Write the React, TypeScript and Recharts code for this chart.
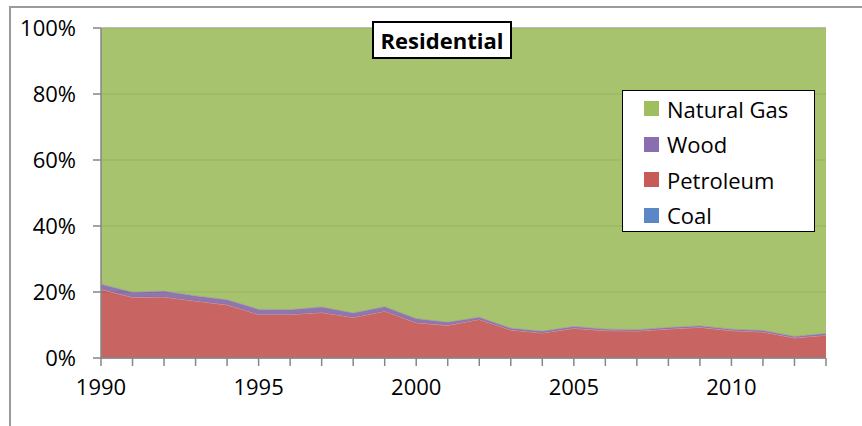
import React from 'react';
import {
  AreaChart,
  Area,
  XAxis,
  YAxis,
  CartesianGrid,
} from 'recharts';

// Residential energy consumption share by fuel, in percent
const years = [
  1990, 1991, 1992, 1993, 1994, 1995, 1996, 1997, 1998, 1999, 2000, 2001,
  2002, 2003, 2004, 2005, 2006, 2007, 2008, 2009, 2010, 2011, 2012, 2013,
];
const coal = [
  0.1, 0.1, 0.1, 0.1, 0.1, 0.1, 0.1, 0.1, 0.1, 0.1, 0.1, 0.1,
  0.1, 0.1, 0.1, 0.1, 0.1, 0.1, 0.1, 0.1, 0.1, 0.1, 0.1, 0.1,
];
const petroleum = [
  20.7, 18.3, 18.4, 17.2, 16.0, 13.1, 13.1, 13.7, 12.2, 14.1, 10.6, 9.8,
  11.6, 8.4, 7.5, 8.9, 8.2, 8.1, 8.7, 9.2, 8.2, 7.8, 6.0, 6.8,
];
const wood = [
  1.6, 1.6, 1.8, 1.6, 1.6, 1.6, 1.5, 1.7, 1.4, 1.4, 1.3, 1.0,
  0.7, 0.6, 0.6, 0.6, 0.5, 0.4, 0.5, 0.5, 0.5, 0.5, 0.5, 0.6,
];
const naturalGas = [
  77.6, 80.0, 79.7, 81.1, 82.3, 85.2, 85.3, 84.5, 86.3, 84.4, 88.0, 89.1,
  87.6, 90.9, 91.8, 90.4, 91.2, 91.4, 90.7, 90.2, 91.2, 91.6, 93.4, 92.5,
];

const percentTicks = [0, 20, 40, 60, 80, 100];
const labeledYears = [1990, 1995, 2000, 2005, 2010];
const chartTitle = 'Residential';

const data = years.map((year, i) => ({
  year,
  Coal: coal[i],
  Petroleum: petroleum[i],
  Wood: wood[i],
  'Natural Gas': naturalGas[i],
}));

const FONT = '"Open Sans", "Noto Sans", sans-serif';
const AXIS_GRAY = '#868686';

const legendItems = [
  { name: 'Natural Gas', color: '#9fbf5f' },
  { name: 'Wood', color: '#8a6fb0' },
  { name: 'Petroleum', color: '#c75b57' },
  { name: 'Coal', color: '#5b87c6' },
];

function LegendBox() {
  return (
    <div
      style={{
        position: 'absolute',
        left: 622,
        top: 90,
        boxSizing: 'border-box',
        width: 193,
        height: 142,
        background: '#fff',
        border: '1.5px solid #000',
        fontFamily: FONT,
      }}
    >
      {legendItems.map((item) => (
        <div
          key={item.name}
          style={{
            display: 'flex',
            alignItems: 'center',
            height: 35.5,
            paddingLeft: 21,
          }}
        >
          <span
            style={{
              display: 'inline-block',
              width: 15,
              height: 15,
              background: item.color,
              marginRight: 8,
              flex: 'none',
            }}
          />
          <span style={{ fontSize: 22, color: '#000', lineHeight: '22px' }}>
            {item.name}
          </span>
        </div>
      ))}
    </div>
  );
}

export default function App() {
  return (
    <div
      style={{
        position: 'absolute',
        left: 0,
        top: 0,
        width: 862,
        height: 426,
        background: '#fff',
        overflow: 'hidden',
        fontFamily: FONT,
      }}
    >
      {/* outer frame */}
      <div
        style={{
          position: 'absolute',
          left: 9,
          top: 6,
          right: -4,
          bottom: -4,
          borderTop: '2px solid #9a9a9a',
          borderLeft: '2px solid #9a9a9a',
        }}
      />
      <AreaChart
        width={862}
        height={426}
        data={data}
        margin={{ top: 28, right: 36, left: 0, bottom: 0 }}
        style={{ position: 'absolute', left: 0, top: 0 }}
      >
        <CartesianGrid
          horizontal
          vertical={false}
          stroke="#7f7f7f"
          strokeWidth={1}
        />
        <XAxis
          dataKey="year"
          type="number"
          domain={[1990, 2013]}
          ticks={years}
          interval={0}
          height={68}
          tickSize={8}
          tickMargin={13}
          tickFormatter={(v) => (labeledYears.includes(v) ? String(v) : '')}
          tick={{ fill: '#000', fontSize: 22, fontFamily: FONT }}
          axisLine={{ stroke: AXIS_GRAY, strokeWidth: 1.5 }}
          tickLine={{ stroke: AXIS_GRAY, strokeWidth: 1.5 }}
        />
        <YAxis
          type="number"
          domain={[0, 100]}
          allowDataOverflow
          ticks={percentTicks}
          width={101}
          tickSize={8}
          tickMargin={17}
          tickFormatter={(v) => `${v}%`}
          tick={{ fill: '#000', fontSize: 22, fontFamily: FONT }}
          axisLine={{ stroke: AXIS_GRAY, strokeWidth: 1.5 }}
          tickLine={{ stroke: AXIS_GRAY, strokeWidth: 1.5 }}
        />
        <Area
          type="linear"
          dataKey="Coal"
          stackId="fuel"
          fill="#4F81BD"
          fillOpacity={0.88}
          stroke="none"
          isAnimationActive={false}
        />
        <Area
          type="linear"
          dataKey="Petroleum"
          stackId="fuel"
          fill="#C0504D"
          fillOpacity={0.88}
          stroke="#dca09d"
          strokeWidth={1}
          isAnimationActive={false}
        />
        <Area
          type="linear"
          dataKey="Wood"
          stackId="fuel"
          fill="#8064A2"
          fillOpacity={0.88}
          stroke="#a894c6"
          strokeWidth={1}
          isAnimationActive={false}
        />
        <Area
          type="linear"
          dataKey="Natural Gas"
          stackId="fuel"
          fill="#9BBB59"
          fillOpacity={0.88}
          stroke="none"
          isAnimationActive={false}
        />
      </AreaChart>
      <LegendBox />
      {/* title box */}
      <div
        style={{
          position: 'absolute',
          left: 372,
          top: 21,
          width: 140,
          height: 38,
          boxSizing: 'border-box',
          border: '2px solid #000',
          background: '#fff',
          display: 'flex',
          alignItems: 'center',
          justifyContent: 'center',
          fontWeight: 'bold',
          fontSize: 22,
          color: '#000',
        }}
      >
        {chartTitle}
      </div>
    </div>
  );
}
